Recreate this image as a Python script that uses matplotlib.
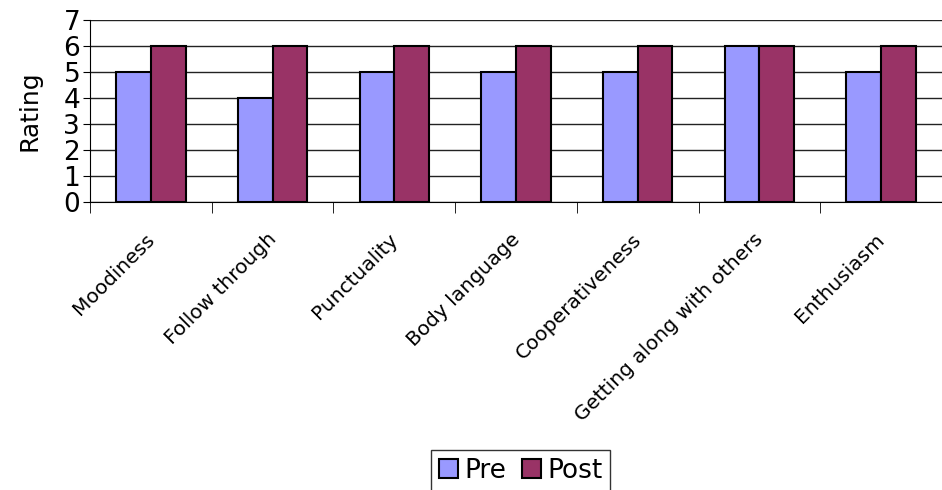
import matplotlib
matplotlib.use("Agg")
import matplotlib.pyplot as plt
import matplotlib.transforms as mtransforms
import numpy as np
from matplotlib.patches import Patch

categories = ["Moodiness", "Follow through", "Punctuality", "Body language",
              "Cooperativeness", "Getting along with others", "Enthusiasm"]
pre = [5, 4, 5, 5, 5, 6, 5]
post = [6, 6, 6, 6, 6, 6, 6]

pre_color = "#9999FF"
post_color = "#993366"

fig = plt.figure(figsize=(9.42, 4.9), dpi=100)
ax = fig.add_axes([0.0955, 0.588, 0.9045, 0.371])

x = np.arange(len(categories))
w = 0.285
ax.bar(x - w / 2, pre, w, color=pre_color, edgecolor="black", linewidth=1.5, zorder=3)
ax.bar(x + w / 2, post, w, color=post_color, edgecolor="black", linewidth=1.5, zorder=3)

ax.set_xlim(-0.5, 6.43)
ax.set_ylim(0, 7)
ax.set_yticks(range(8))
ax.tick_params(axis="y", labelsize=19, length=5, direction="out", pad=2)
ax.yaxis.grid(True, color="#222222", linewidth=1, zorder=0)

ax.set_xticks(x)
ax.set_xticklabels(categories, rotation=45, ha="right", rotation_mode="anchor", fontsize=14.5)
ax.tick_params(axis="x", which="major", length=0, pad=20)
shift = mtransforms.ScaledTranslation(-6 / 100, 0, fig.dpi_scale_trans)
for lbl in ax.get_xticklabels():
    lbl.set_transform(lbl.get_transform() + shift)
ax.set_xticks(np.arange(-0.5, 7, 1), minor=True)
ax.tick_params(axis="x", which="minor", length=8, direction="out", color="black")

for side in ("top", "right"):
    ax.spines[side].set_visible(False)
ax.spines["left"].set_color("black")
ax.spines["bottom"].set_color("black")

ax.set_ylabel("Rating", fontsize=18, labelpad=16)

handles = [Patch(facecolor=pre_color, edgecolor="black", linewidth=1.5, label="Pre"),
           Patch(facecolor=post_color, edgecolor="black", linewidth=1.5, label="Post")]
leg = fig.legend(handles=handles, loc="upper center", bbox_to_anchor=(0.553, 0.082),
                 ncol=2, fontsize=19, frameon=True, fancybox=False,
                 handlelength=0.7, handleheight=0.7, handletextpad=0.25,
                 columnspacing=0.6, borderpad=0.3, borderaxespad=0)
leg.get_frame().set_edgecolor("black")
leg.get_frame().set_linewidth(1)

fig.savefig("out.png", dpi=100)
